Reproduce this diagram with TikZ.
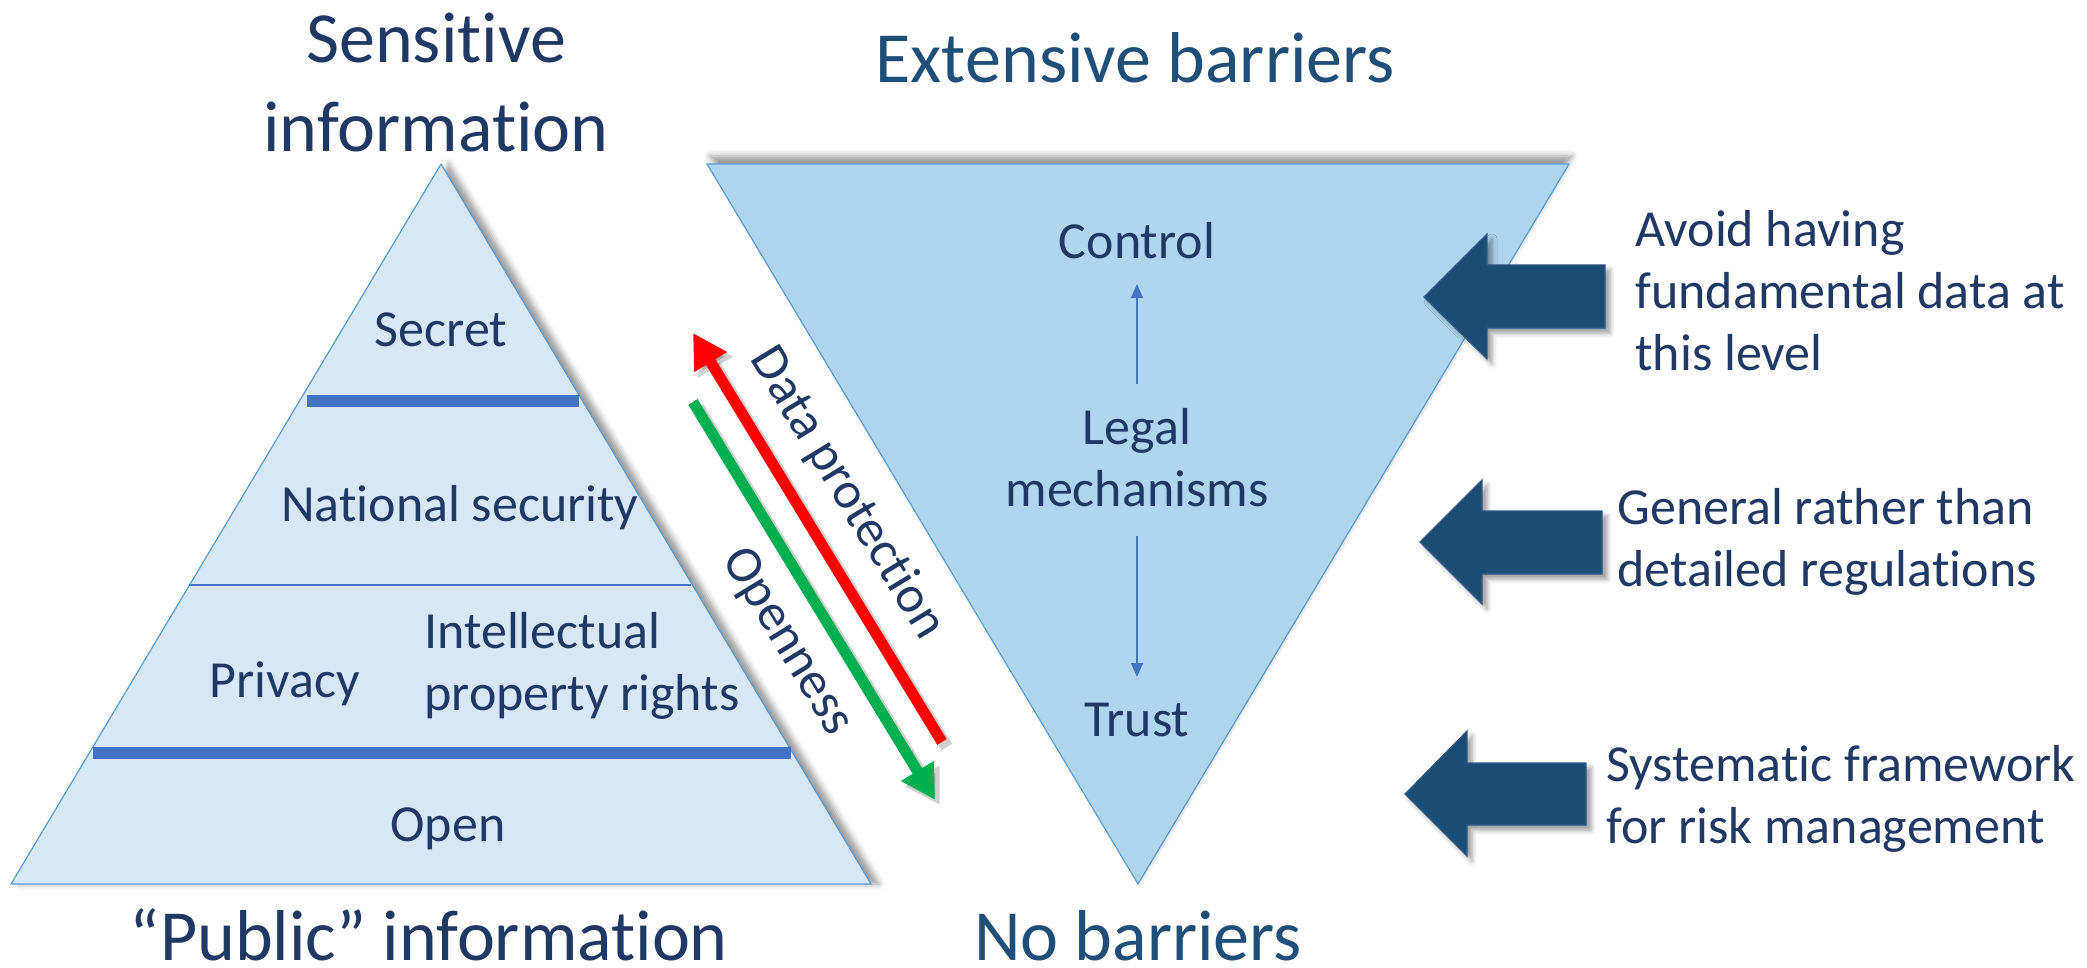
\documentclass[tikz,border=0pt]{standalone}
\usepackage{fontspec}
\setmainfont{Carlito}[Ligatures=NoCommon]
\usetikzlibrary{arrows.meta,calc,shadows.blur}
\definecolor{pyr}{HTML}{D7E7F5}
\definecolor{inv}{HTML}{AFD5EF}
\definecolor{edgeblue}{HTML}{5B9BD5}
\definecolor{barblue}{HTML}{4472C4}
\definecolor{navy}{HTML}{203864}
\definecolor{titleblue}{HTML}{1F4E79}
\definecolor{blk}{HTML}{1B4C74}
\definecolor{blkedge}{HTML}{2E5A87}
\definecolor{redar}{HTML}{FF0000}
\definecolor{greenar}{HTML}{00B050}
\tikzset{
  txt/.style={text=navy, font=\fontsize{26}{31}\selectfont, inner sep=0pt},
  ttl/.style={font=\fontsize{36}{44.5}\selectfont, inner sep=0pt},
  thinarr/.style={draw=barblue, line width=0.75pt, -{Triangle[width=6pt,length=7pt]}},
  bigarr/.style={line width=5.5pt, -{Triangle[width=18pt,length=17pt]}},
  arrshadow/.style={line width=6pt, draw=black, opacity=0.18, -{Triangle[width=19pt,length=17pt]}},
  blockarr/.style={fill=blk, draw=blkedge, line width=0.6pt,
    blur shadow={shadow xshift=2.5pt, shadow yshift=-2.5pt, shadow blur radius=2.5pt}},
  barline/.style={draw=barblue}
}
\begin{document}
\begin{tikzpicture}[x=0.5pt,y=-0.5pt]
\useasboundingbox (0,0) rectangle (2087,968);
% pyramid
\path[draw=edgeblue, line width=0.6pt, fill=pyr,
  blur shadow={shadow xshift=4pt, shadow yshift=0pt, shadow blur radius=3pt}]
  (441,164) -- (871,884) -- (11,884) -- cycle;
\draw[barline, line width=6pt] (307,401) -- (579,401);
\draw[barline, line width=0.75pt] (189,585) -- (691,585);
\draw[barline, line width=6pt] (93,753) -- (791,753);
% inverted triangle
\path[draw=edgeblue, line width=0.6pt, fill=inv,
  blur shadow={shadow xshift=1.5pt, shadow yshift=4pt, shadow blur radius=3pt}]
  (707,164) -- (1569,164) -- (1138,884) -- cycle;
% titles (multi-line nodes: base = last line)
\node[ttl, text=navy, align=center, anchor=base] (sens) at (436,152) {Sensitive\\information};
\node[ttl, text=navy, anchor=base] (public) at (429,960) {“Public” information};
\node[ttl, text=titleblue, anchor=base] (ext) at (1135,83) {Extensive barriers};
\node[ttl, text=titleblue, anchor=base] (nobar) at (1138,960) {No barriers};
% pyramid texts
\node[txt, anchor=base] (secret) at (441,346) {Secret};
\node[txt, anchor=base] (natsec) at (460,521) {National security};
\node[txt, anchor=base] (privacy) at (285,697) {Privacy};
\node[txt, anchor=base west, align=left] (ipr) at (424,710) {Intellectual\\property rights};
\node[txt, anchor=base] (open) at (448,841) {Open};
% inverted triangle texts
\node[txt, anchor=base] (control) at (1137,259) {Control};
\node[txt, anchor=base, align=center] (legal) at (1137,506) {Legal\\mechanisms};
\node[txt, anchor=base] (trust) at (1137,736) {Trust};
\draw[thinarr] ($(legal.base)+(0,-122)$) -- ($(control.base)+(0,25)$);
\draw[thinarr] ($(legal.base)+(0,30)$) -- ($(trust.base)+(0,-59)$);
% red / green arrows
\coordinate (rtail) at (942,742);
\coordinate (rhead) at (693,333);
\coordinate (gtail) at (693,402);
\coordinate (ghead) at (935,800);
\draw[arrshadow] ($(rtail)+(5,5)$) -- ($(rhead)+(5,5)$);
\draw[arrshadow] ($(gtail)+(5,5)$) -- ($(ghead)+(5,5)$);
\draw[bigarr, draw=redar, fill=redar] (rtail) -- (rhead);
\draw[bigarr, draw=greenar, fill=greenar] (gtail) -- (ghead);
\node[txt, rotate=-58.7] (dp) at (847,493) {Data protection};
\node[txt, rotate=-58.7] (op) at (787,642) {Openness};
% block arrows
\path[blockarr] (1424,297) -- (1487,234) -- (1487,265) -- (1605,265) -- (1605,328) -- (1487,328) -- (1487,359) -- cycle;
\path[blockarr] (1420,542) -- (1482,480) -- (1482,511) -- (1602,511) -- (1602,574) -- (1482,574) -- (1482,604) -- cycle;
\path[blockarr] (1405,794) -- (1467,731) -- (1467,763) -- (1586,763) -- (1586,825) -- (1467,825) -- (1467,856) -- cycle;
% right texts
\node[txt, anchor=base west, align=left] (t1) at (1635,370) {Avoid having\\fundamental data at\\this level};
\node[txt, anchor=base west, align=left] (t2) at (1617,586) {General rather than\\detailed regulations};
\node[txt, anchor=base west, align=left] (t3) at (1606,843) {Systematic framework\\for risk management};
\end{tikzpicture}
\end{document}
